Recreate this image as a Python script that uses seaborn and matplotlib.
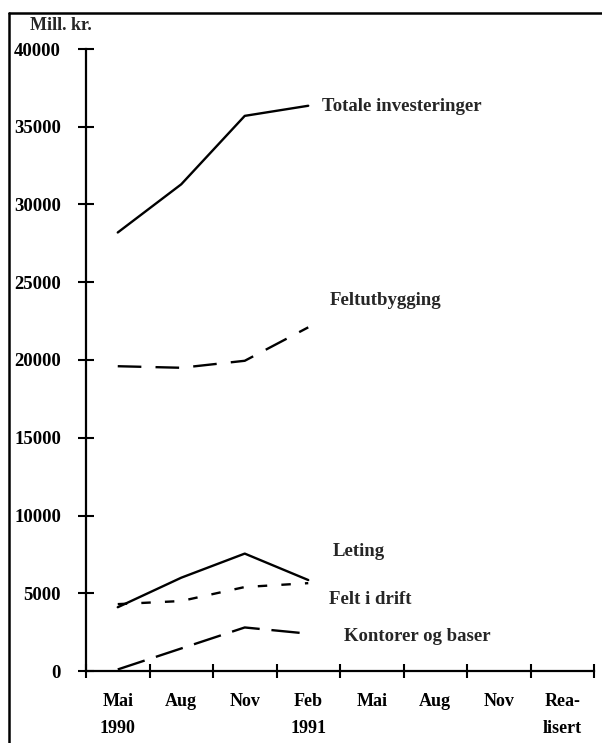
import numpy as np
import pandas as pd
import matplotlib
matplotlib.use("Agg")
import matplotlib.pyplot as plt
from matplotlib.lines import Line2D
import seaborn as sns

# ---- data ----
categories = ["Mai\n1990", "Aug", "Nov", "Feb\n1991", "Mai", "Aug", "Nov", "Rea-\nlisert"]
periods = ["Mai 1990", "Aug 1990", "Nov 1990", "Feb 1991"]
totale = [28200, 31300, 35700, 36350]
feltutbygging = [19600, 19500, 19950, 22100]
leting = [4100, 6000, 7550, 5850]
felt_i_drift = [4300, 4500, 5400, 5650]
kontorer = [100, 1450, 2800, 2400]
series_names = ["Totale investeringer", "Feltutbygging", "Leting", "Felt i drift", "Kontorer og baser"]
y_ticks = [0, 5000, 10000, 15000, 20000, 25000, 30000, 35000, 40000]

values = [totale, feltutbygging, leting, felt_i_drift, kontorer]
rows = []
for name, vals in zip(series_names, values):
    for i, (p, v) in enumerate(zip(periods, vals)):
        rows.append({"series": name, "pos": i, "period": p, "value": v})
df = pd.DataFrame(rows)

sns.set_style("white")
plt.rcParams["font.family"] = ["Liberation Serif", "DejaVu Serif"]
plt.rcParams["font.weight"] = "bold"

fig = plt.figure(figsize=(6.02, 7.43), dpi=100)
ax = fig.add_axes([86 / 602, 1 - 671 / 743, (594 - 86) / 602, (671 - 49) / 743])

dashes = {
    "Totale investeringer": "",
    "Feltutbygging": (10, 6),
    "Leting": "",
    "Felt i drift": (4, 6),
    "Kontorer og baser": (12, 5),
}
palette = {n: "black" for n in series_names}
sns.lineplot(data=df, x="pos", y="value", hue="series", style="series",
             dashes=dashes, palette=palette, linewidth=1.7, legend=False, ax=ax)

ax.set_xlim(-0.5, len(categories) - 0.5)
ax.set_ylim(0, 40000)
ax.set_xlabel("")
ax.set_ylabel("")

ax.set_yticks(y_ticks)
ax.set_yticklabels([str(t) for t in y_ticks], fontsize=13.5, fontweight="bold")
ax.set_xticks(range(len(categories)))
ax.set_xticklabels(categories, fontsize=13, fontweight="bold", linespacing=1.75)
ax.set_xticks(np.arange(-0.5, len(categories), 1), minor=True)

ax.tick_params(axis="y", which="major", left=True, direction="inout", length=12,
               width=1.5, pad=12, colors="black")
ax.tick_params(axis="x", which="major", bottom=True, length=0, pad=16, colors="black")
ax.tick_params(axis="x", which="minor", bottom=True, direction="inout", length=10,
               width=1.5, color="black")

for s in ["top", "right"]:
    ax.spines[s].set_visible(False)
for s in ["left", "bottom"]:
    ax.spines[s].set_linewidth(1.6)
    ax.spines[s].set_color("black")

# series labels
label_pos = {
    "Totale investeringer": (3.22, 36300),
    "Feltutbygging": (3.34, 23850),
    "Leting": (3.39, 7700),
    "Felt i drift": (3.33, 4570),
    "Kontorer og baser": (3.56, 2200),
}
for name in series_names:
    x, y = label_pos[name]
    ax.text(x, y, name, fontsize=13.5, fontweight="bold", ha="left", va="center")

fig.text(30 / 602, 1 - 25 / 743, "Mill. kr.", fontsize=13, fontweight="bold",
         ha="left", va="center")

# frame lines
fig.add_artist(Line2D([9 / 602, 1.0], [1 - 13 / 743, 1 - 13 / 743], color="black", lw=1.8))
fig.add_artist(Line2D([9 / 602, 9 / 602], [0, 1 - 13 / 743], color="black", lw=1.8))

fig.savefig("out.png", dpi=100)
